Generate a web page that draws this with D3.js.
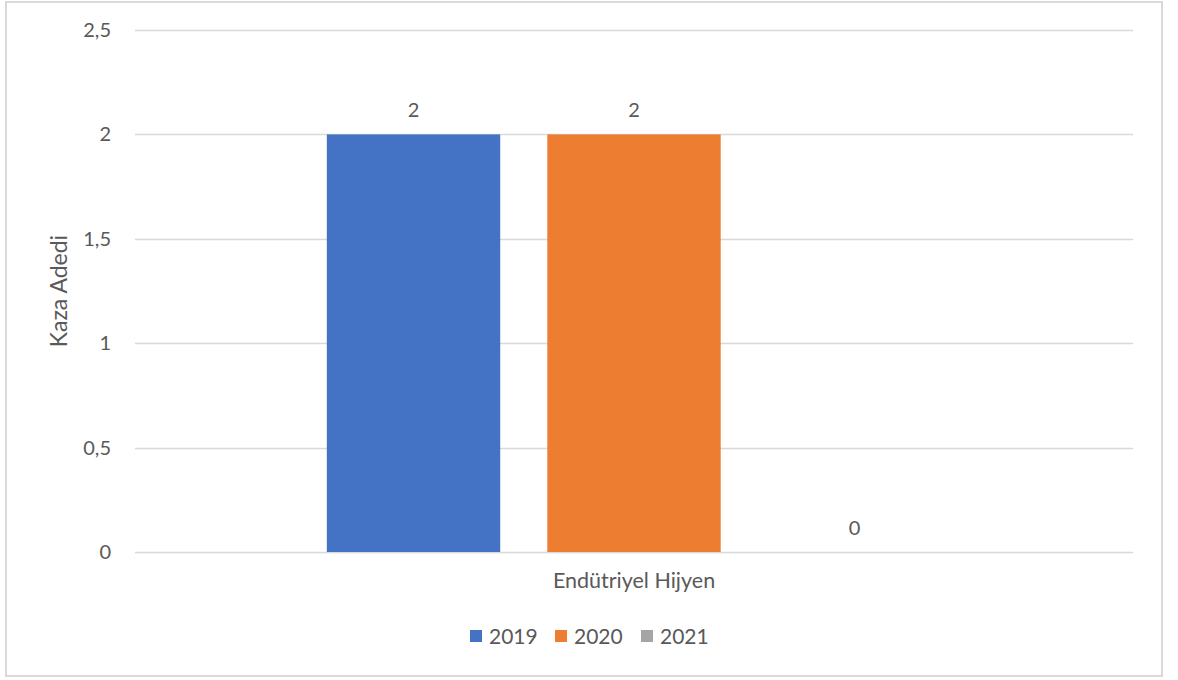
<!DOCTYPE html>
<html>
<head>
<meta charset="utf-8">
<script src="https://cdn.jsdelivr.net/npm/d3@7"></script>
<style>
  html, body { margin: 0; padding: 0; background: #fff; }
  svg text { font-family: Lato, "Open Sans", sans-serif; fill: #595959; }
</style>
</head>
<body>
<svg id="chart" width="1178" height="680"></svg>
<script>
// Chart data
const categories = ["Endütriyel Hijyen"];
const seriesNames = ["2019", "2020", "2021"];
const values2019 = [2];
const values2020 = [2];
const values2021 = [0];
const seriesColors = ["#4472C4", "#ED7D31", "#A5A5A5"];
const yTicks = [0, 0.5, 1, 1.5, 2, 2.5];
const yTitle = "Kaza Adedi";

const seriesValues = [values2019, values2020, values2021];
const FONT = 'Lato, "Open Sans", sans-serif';

const svg = d3.select("#chart");

// Outer frame
svg.append("rect")
  .attr("x", 6).attr("y", 2).attr("width", 1156).attr("height", 674)
  .attr("fill", "#fff").attr("stroke", "#d9d9d9").attr("stroke-width", 2);

const plot = { left: 135, right: 1133, top: 30, bottom: 552 };

const y = d3.scaleLinear().domain([0, 2.5]).range([plot.bottom, plot.top]);
const x0 = d3.scaleBand().domain(categories).range([plot.left, plot.right]).paddingInner(0).paddingOuter(0);
const x1 = d3.scaleBand().domain(seriesNames).range([0, x0.bandwidth()]).paddingInner(0.2136).paddingOuter(0.87);

const fmt = v => String(v).replace(".", ",");

// Gridlines
svg.append("g")
  .selectAll("line")
  .data(yTicks)
  .join("line")
  .attr("x1", plot.left).attr("x2", plot.right)
  .attr("y1", d => Math.round(y(d)) + 0.5).attr("y2", d => Math.round(y(d)) + 0.5)
  .attr("stroke", "#d9d9d9").attr("stroke-width", 1.5);

// Y axis labels
const yAxis = d3.axisLeft(y).tickValues(yTicks).tickFormat(fmt).tickSize(0).tickPadding(0);
const yg = svg.append("g").attr("transform", `translate(${plot.left - 24},0)`).call(yAxis);
yg.select(".domain").remove();
yg.selectAll("text").attr("font-size", 20).attr("fill", "#595959").style("font-family", FONT);

// Bars
const groups = svg.append("g")
  .selectAll("g")
  .data(categories)
  .join("g")
  .attr("transform", d => `translate(${x0(d)},0)`);

groups.selectAll("rect")
  .data((d, i) => seriesNames.map((s, j) => ({ s, v: seriesValues[j][i], c: seriesColors[j] })))
  .join("rect")
  .attr("x", d => x1(d.s))
  .attr("width", x1.bandwidth())
  .attr("y", d => y(d.v))
  .attr("height", d => y(0) - y(d.v))
  .attr("fill", d => d.c);

// Value labels
groups.selectAll("text.val")
  .data((d, i) => seriesNames.map((s, j) => ({ s, v: seriesValues[j][i] })))
  .join("text")
  .attr("class", "val")
  .attr("x", d => x1(d.s) + x1.bandwidth() / 2)
  .attr("y", d => y(d.v) - 17)
  .attr("text-anchor", "middle")
  .attr("font-size", 20)
  .text(d => fmt(d.v));

// Category axis label
const xAxis = d3.axisBottom(x0).tickSize(0).tickPadding(0);
const xg = svg.append("g").attr("transform", `translate(0,${plot.bottom + 21})`).call(xAxis);
xg.select(".domain").remove();
xg.selectAll("text").attr("font-size", 21.5).attr("fill", "#595959").attr("dy", "0.71em").style("font-family", FONT);

// Y axis title
svg.append("text")
  .attr("transform", `translate(67,${(plot.top + plot.bottom) / 2}) rotate(-90)`)
  .attr("text-anchor", "middle")
  .attr("font-size", 23)
  .text(yTitle);

// Legend
const legendX = [470, 555, 641];
const legend = svg.append("g")
  .selectAll("g")
  .data(seriesNames)
  .join("g")
  .attr("transform", (d, i) => `translate(${legendX[i]},636)`);
legend.append("rect")
  .attr("x", 0).attr("y", -6).attr("width", 12).attr("height", 12)
  .attr("fill", (d, i) => seriesColors[i]);
legend.append("text")
  .attr("x", 19).attr("y", 0).attr("dy", "0.36em")
  .attr("font-size", 21)
  .text(d => d);
</script>
</body>
</html>
